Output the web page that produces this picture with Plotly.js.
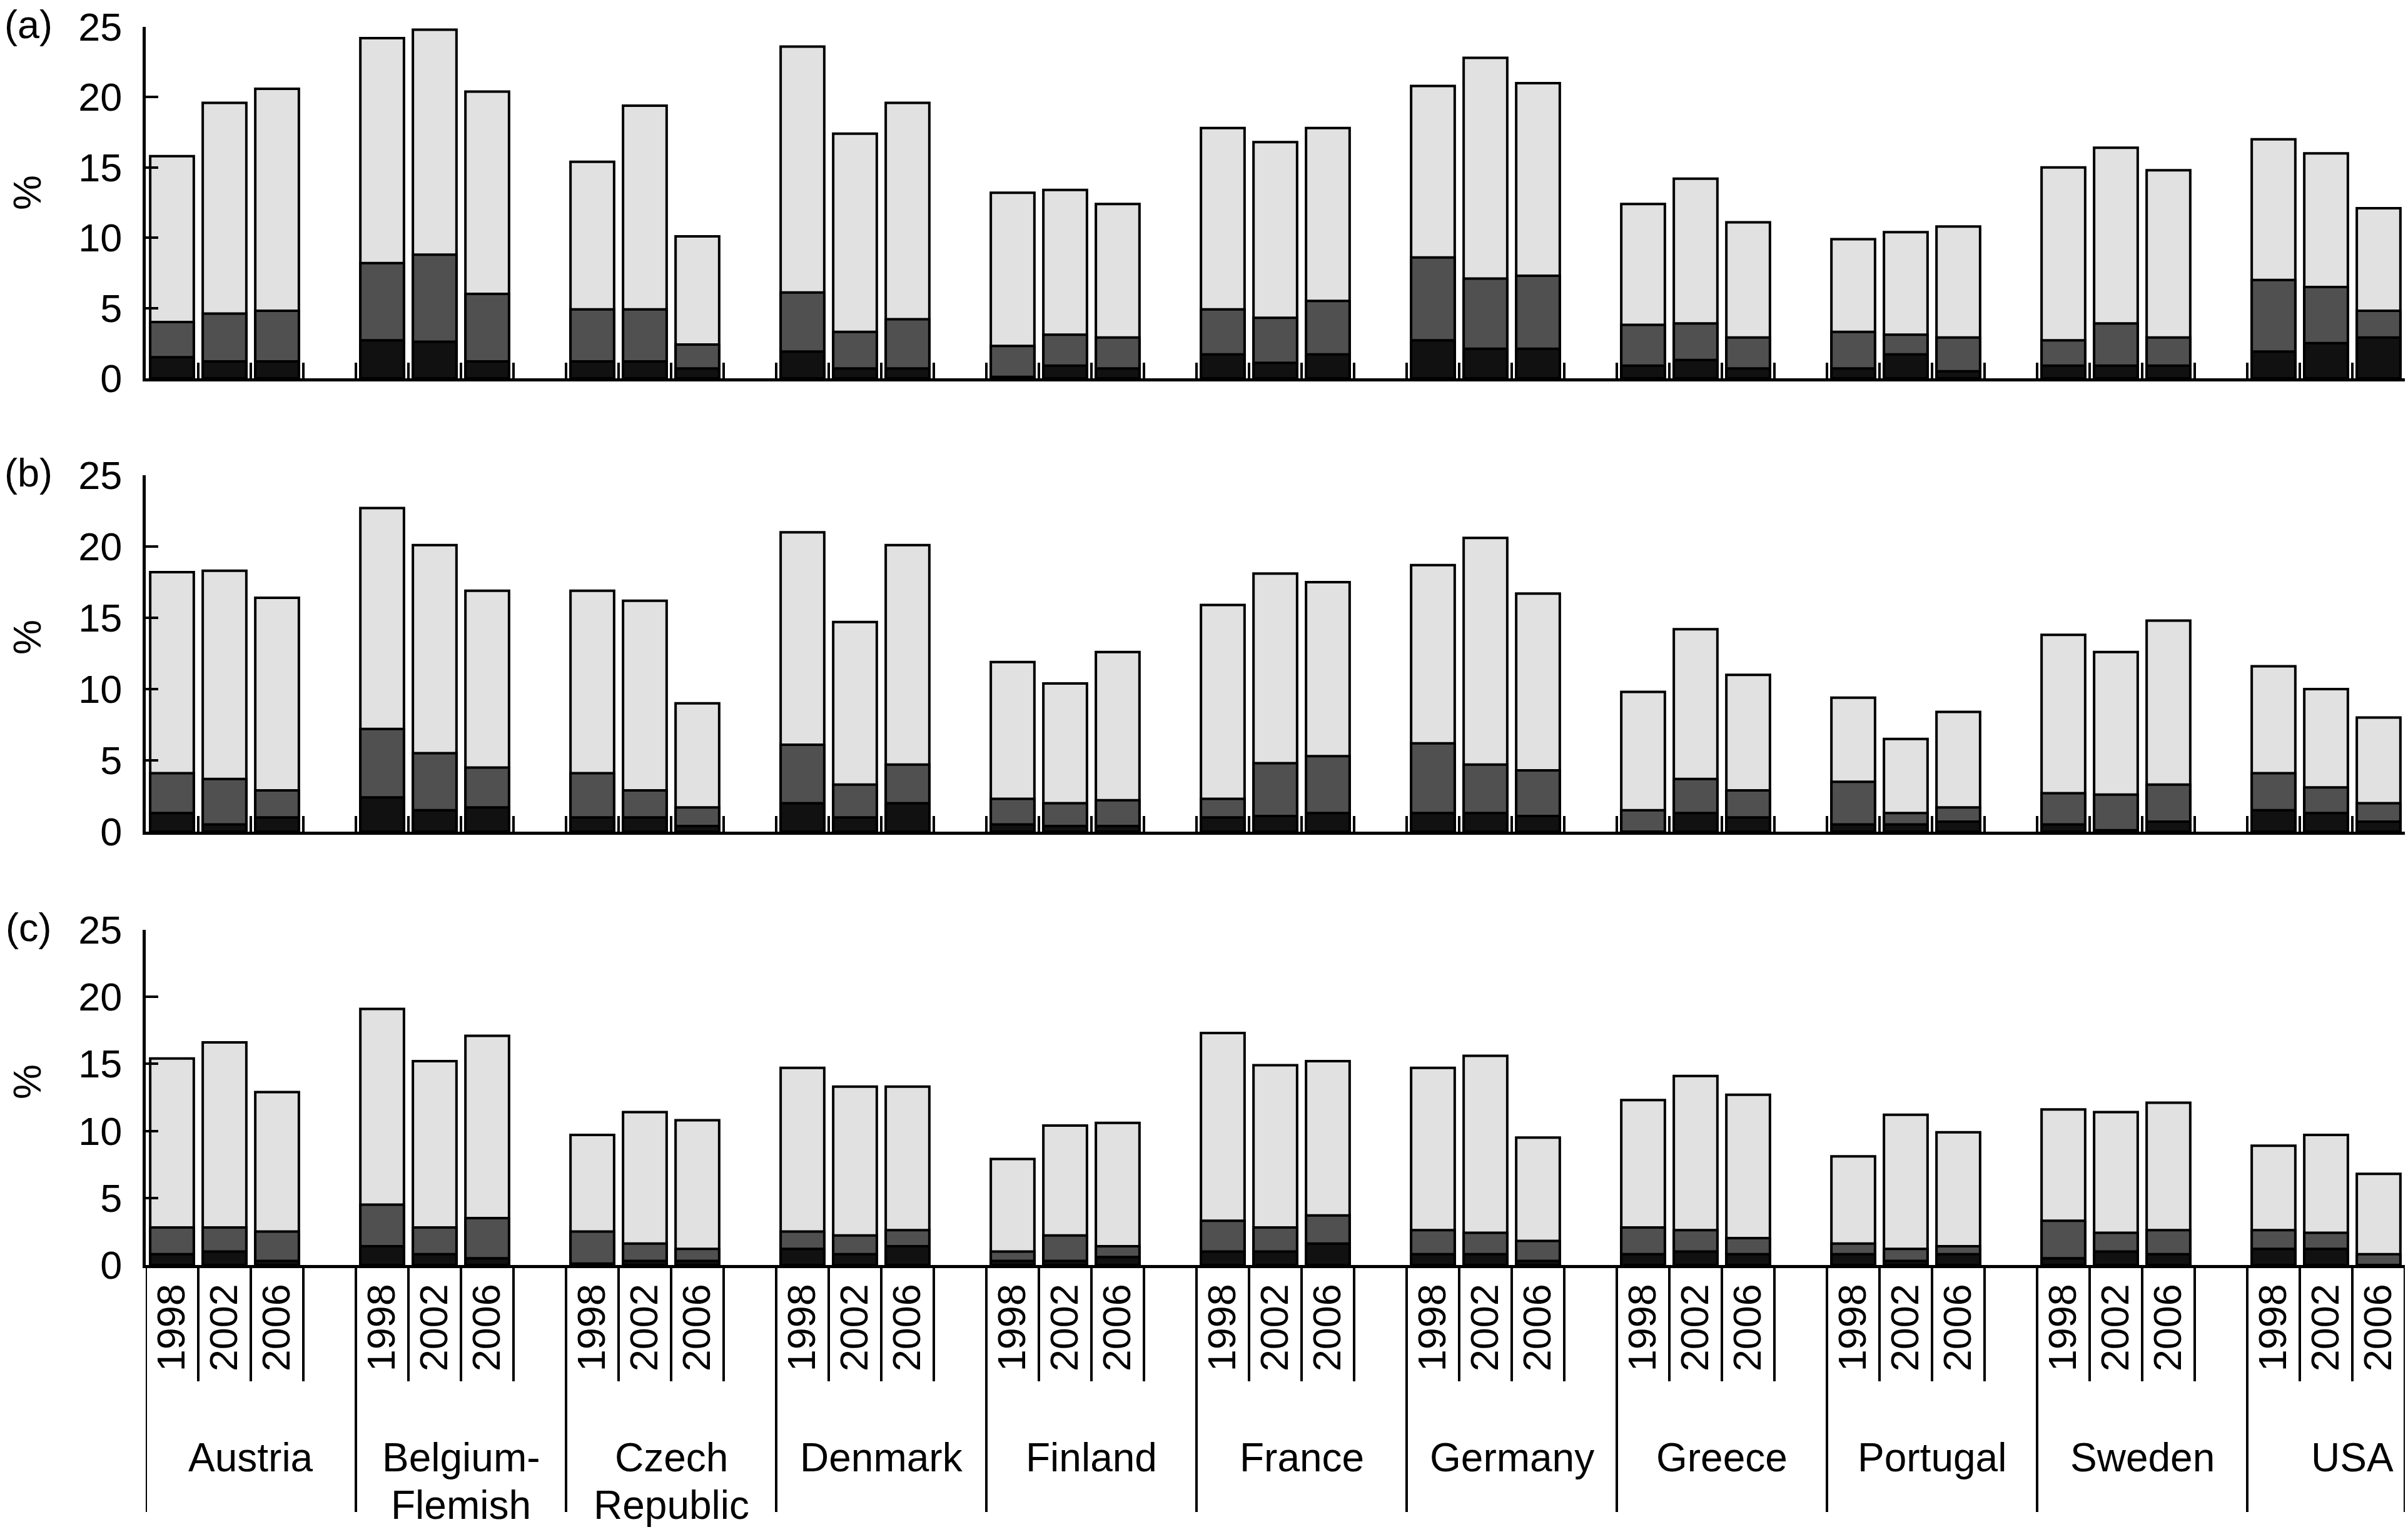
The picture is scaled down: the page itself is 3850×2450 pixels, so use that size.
<!DOCTYPE html>
<html>
<head>
<meta charset="utf-8">
<script src="https://cdn.plot.ly/plotly-3.0.1.min.js"></script>
<style>
html,body{margin:0;padding:0;background:#fff;}
#chart{width:3850px;height:2450px;}
</style>
</head>
<body>
<div id="chart"></div>
<script>
// ---------- data ----------
const countries = ['Austria', 'Belgium-\nFlemish', 'Czech\nRepublic', 'Denmark', 'Finland', 'France',
                   'Germany', 'Greece', 'Portugal', 'Sweden', 'USA'];
const years = ['1998', '2002', '2006'];
const panelLabels = ['(a)', '(b)', '(c)'];
const yTickVals = [0, 5, 10, 15, 20, 25];

// panel (a): top of light, dark and black segments (%)
const aTotal = [15.8, 19.6, 20.6, 24.2, 24.8, 20.4, 15.4, 19.4, 10.1, 23.6, 17.4, 19.6, 13.2, 13.4, 12.4,
                17.8, 16.8, 17.8, 20.8, 22.8, 21.0, 12.4, 14.2, 11.1, 9.9, 10.4, 10.8, 15.0, 16.4, 14.8,
                17.0, 16.0, 12.1];
const aMid   = [4.0, 4.6, 4.8, 8.2, 8.8, 6.0, 4.9, 4.9, 2.4, 6.1, 3.3, 4.2, 2.3, 3.1, 2.9,
                4.9, 4.3, 5.5, 8.6, 7.1, 7.3, 3.8, 3.9, 2.9, 3.3, 3.1, 2.9, 2.7, 3.9, 2.9,
                7.0, 6.5, 4.8];
const aLow   = [1.5, 1.2, 1.2, 2.7, 2.6, 1.2, 1.2, 1.2, 0.7, 1.9, 0.7, 0.7, 0.1, 0.9, 0.7,
                1.7, 1.1, 1.7, 2.7, 2.1, 2.1, 0.9, 1.3, 0.7, 0.7, 1.7, 0.5, 0.9, 0.9, 0.9,
                1.9, 2.5, 2.9];

// panel (b)
const bTotal = [18.2, 18.3, 16.4, 22.7, 20.1, 16.9, 16.9, 16.2, 9.0, 21.0, 14.7, 20.1, 11.9, 10.4, 12.6,
                15.9, 18.1, 17.5, 18.7, 20.6, 16.7, 9.8, 14.2, 11.0, 9.4, 6.5, 8.4, 13.8, 12.6, 14.8,
                11.6, 10.0, 8.0];
const bMid   = [4.1, 3.7, 2.9, 7.2, 5.5, 4.5, 4.1, 2.9, 1.7, 6.1, 3.3, 4.7, 2.3, 2.0, 2.2,
                2.3, 4.8, 5.3, 6.2, 4.7, 4.3, 1.5, 3.7, 2.9, 3.5, 1.3, 1.7, 2.7, 2.6, 3.3,
                4.1, 3.1, 2.0];
const bLow   = [1.3, 0.5, 1.0, 2.4, 1.5, 1.7, 1.0, 1.0, 0.4, 2.0, 1.0, 2.0, 0.5, 0.4, 0.4,
                1.0, 1.1, 1.3, 1.3, 1.3, 1.1, 0.0, 1.3, 1.0, 0.5, 0.5, 0.7, 0.5, 0.1, 0.7,
                1.5, 1.3, 0.7];

// panel (c)
const cTotal = [15.4, 16.6, 12.9, 19.1, 15.2, 17.1, 9.7, 11.4, 10.8, 14.7, 13.3, 13.3, 7.9, 10.4, 10.6,
                17.3, 14.9, 15.2, 14.7, 15.6, 9.5, 12.3, 14.1, 12.7, 8.1, 11.2, 9.9, 11.6, 11.4, 12.1,
                8.9, 9.7, 6.8];
const cMid   = [2.8, 2.8, 2.5, 4.5, 2.8, 3.5, 2.5, 1.6, 1.2, 2.5, 2.2, 2.6, 1.0, 2.2, 1.4,
                3.3, 2.8, 3.7, 2.6, 2.4, 1.8, 2.8, 2.6, 2.0, 1.6, 1.2, 1.4, 3.3, 2.4, 2.6,
                2.6, 2.4, 0.8];
const cLow   = [0.8, 1.0, 0.3, 1.4, 0.8, 0.5, 0.1, 0.3, 0.3, 1.2, 0.8, 1.4, 0.3, 0.3, 0.6,
                1.0, 1.0, 1.6, 0.8, 0.8, 0.3, 0.8, 1.0, 0.8, 0.8, 0.3, 0.8, 0.5, 1.0, 0.8,
                1.2, 1.2, 0.0];

const panelData = [
  {total: aTotal, mid: aMid, low: aLow},
  {total: bTotal, mid: bMid, low: bLow},
  {total: cTotal, mid: cMid, low: cLow}
];

// ---------- layout helpers ----------
const W = 3850, H = 2450;
const FONT = '"Liberation Sans", Arial, Helvetica, sans-serif';
const slotsPerGroup = 4;               // 3 years + 1 empty slot
const nSlots = countries.length * slotsPerGroup - 1;
const xs = [], yearText = [];
countries.forEach((c, i) => years.forEach((y, j) => {
  xs.push(i * slotsPerGroup + j + 0.5);
  yearText.push(y);
}));
const boundaries = Array.from({length: nSlots + 1}, (_, k) => k);

const panelsPx = [{top: 43, bottom: 605}, {top: 760, bottom: 1330}, {top: 1487, bottom: 2023}];
const py = v => 1 - v / H;
const xDomain = [233 / W, 3845 / W];

const colors = {total: '#e1e1e1', mid: '#505050', low: '#111111'};
const traces = [];
panelData.forEach((p, k) => {
  const xa = k === 0 ? 'x' : 'x' + (k + 1);
  const ya = k === 0 ? 'y' : 'y' + (k + 1);
  ['total', 'mid', 'low'].forEach(key => {
    traces.push({
      type: 'bar', x: xs, y: p[key], xaxis: xa, yaxis: ya, width: 0.83,
      marker: {color: colors[key], line: {color: '#000', width: 4}},
      hoverinfo: 'skip', showlegend: false
    });
  });
});

const layout = {
  width: W, height: H,
  margin: {l: 0, r: 0, t: 0, b: 0},
  paper_bgcolor: '#fff', plot_bgcolor: 'rgba(0,0,0,0)',
  barmode: 'overlay',
  font: {family: FONT, color: '#000', size: 63},
  showlegend: false,
  shapes: [], annotations: []
};

panelsPx.forEach((pp, k) => {
  const sfx = k === 0 ? '' : String(k + 1);
  const xa = 'xaxis' + sfx, ya = 'yaxis' + sfx;
  layout[ya] = {
    domain: [py(pp.bottom), py(pp.top)], anchor: 'x' + sfx,
    range: [0, 25], tickvals: yTickVals, ticks: 'inside', ticklen: 20, tickwidth: 4, tickcolor: '#000',
    showline: true, linewidth: 5, linecolor: '#000', showgrid: false, zeroline: false,
    tickfont: {family: FONT, size: 63, color: '#000'}, ticklabelstandoff: 20, fixedrange: true
  };
  const xaObj = {
    domain: xDomain, anchor: 'y' + sfx, range: [0, nSlots],
    showline: true, linewidth: 5, linecolor: '#000', showgrid: false, zeroline: false, fixedrange: true
  };
  if (k < 2) {
    Object.assign(xaObj, {tickmode: 'array', tickvals: boundaries, ticks: 'inside', ticklen: 25,
                          tickwidth: 4, tickcolor: '#000', showticklabels: false});
  } else {
    Object.assign(xaObj, {tickmode: 'array', tickvals: xs, ticktext: yearText, ticks: '',
                          tickangle: -90, tickfont: {family: FONT, size: 63, color: '#000'},
                          ticklabelstandoff: 0});
  }
  layout[xa] = xaObj;

  // panel label
  layout.annotations.push({
    text: panelLabels[k], xref: 'paper', yref: 'paper', x: 45 / W, y: py(pp.top - 4),
    xanchor: 'center', yanchor: 'middle', showarrow: false, font: {family: FONT, size: 63, color: '#000'}
  });
});

// y titles "%"
[308, 1019, 1730].forEach(yc => {
  layout.annotations.push({
    text: '%', xref: 'paper', yref: 'paper', x: 43 / W, y: py(yc), textangle: -90,
    xanchor: 'center', yanchor: 'middle', showarrow: false, font: {family: FONT, size: 63, color: '#000'}
  });
});

// dividers below panel (c)
boundaries.forEach(b => {
  const isGroup = (b % slotsPerGroup === 0) || b === nSlots;
  layout.shapes.push({
    type: 'line', xref: 'x3', yref: 'paper', x0: b, x1: b,
    y0: py(2023), y1: py(isGroup ? 2418 : 2209),
    line: {color: '#000', width: 4}
  });
});

// country labels
countries.forEach((c, i) => {
  c.split('\n').forEach((line, li) => {
    layout.annotations.push({
      text: line, xref: 'x3', yref: 'paper', x: i * slotsPerGroup + 2, y: py(2331 + li * 76),
      xanchor: 'center', yanchor: 'middle', showarrow: false,
      font: {family: FONT, size: 64, color: '#000'}
    });
  });
});

Plotly.newPlot('chart', traces, layout, {staticPlot: true, displayModeBar: false});
</script>
</body>
</html>
